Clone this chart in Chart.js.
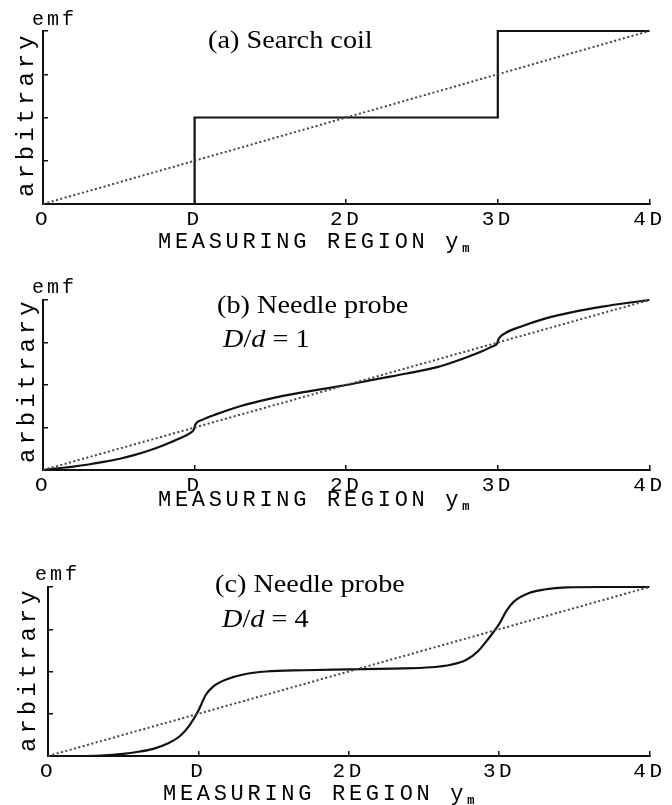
<!DOCTYPE html>
<html>
<head>
<meta charset="utf-8">
<script src="https://cdn.jsdelivr.net/npm/chart.js@4/dist/chart.umd.min.js"></script>
<style>
  body { margin: 0; background: #fff; }
  #page { position: relative; width: 672px; height: 805px; overflow: hidden; }
  canvas { position: absolute; left: 0; }
  .lbl { position: absolute; white-space: nowrap; line-height: 1; color: #000; z-index: 2; }
  .mono { font-family: 'Liberation Mono', 'Courier New', monospace; }
  .serif { font-family: 'Liberation Serif', 'Times New Roman', serif; font-size: 25px;
           transform: scaleX(1.13); transform-origin: 0 0; color: #000; }
  .emf { font-size: 20px; letter-spacing: 3px; }
  .ylab { font-size: 24px; letter-spacing: 4px; transform: rotate(-90deg); transform-origin: 0 0; }
  .xlab { font-size: 22px; letter-spacing: 3.7px; }
  .sub { font-size: 12px; letter-spacing: 0; vertical-align: -4px; font-weight: bold; }
</style>
</head>
<body>
<div id="page">
  <canvas id="chartA" width="672" height="260" style="top:0px"></canvas>
  <canvas id="chartB" width="672" height="260" style="top:262px"></canvas>
  <canvas id="chartC" width="672" height="260" style="top:545px"></canvas>

  <!-- panel (a) text -->
  <div class="lbl mono emf" style="left:32px;top:10px">emf</div>
  <div class="lbl mono ylab" style="left:15px;top:197px">arbitrary</div>
  <div class="lbl mono xlab" style="left:158px;top:232px">MEASURING REGION y<span class="sub">m</span></div>
  <div class="lbl serif" style="left:208px;top:27px">(a) Search coil</div>

  <!-- panel (b) text -->
  <div class="lbl mono emf" style="left:32px;top:278px">emf</div>
  <div class="lbl mono ylab" style="left:16px;top:463px">arbitrary</div>
  <div class="lbl mono xlab" style="left:158px;top:490px">MEASURING REGION y<span class="sub">m</span></div>
  <div class="lbl serif" style="left:217px;top:292px">(b) Needle probe</div>
  <div class="lbl serif" style="left:223px;top:326px"><i>D</i>/<i>d</i> = 1</div>

  <!-- panel (c) text -->
  <div class="lbl mono emf" style="left:35px;top:565px">emf</div>
  <div class="lbl mono ylab" style="left:17px;top:752px">arbitrary</div>
  <div class="lbl mono xlab" style="left:163px;top:784px">MEASURING REGION y<span class="sub">m</span></div>
  <div class="lbl serif" style="left:215px;top:571px">(c) Needle probe</div>
  <div class="lbl serif" style="left:222px;top:606px"><i>D</i>/<i>d</i> = 4</div>
</div>

<script>
// tick labels along the measuring region
const xTickLabels = ['O', 'D', '2D', '3D', '4D'];

// dotted reference line (same in every panel)
const diagX = [0, 4];
const diagY = [0, 4];

// (a) search coil - step response
const coilX = [0, 1, 1, 3, 3, 4];
const coilY = [0, 0, 2, 2, 4, 4];

// (b) needle probe, D/d = 1
const needle1X = [0, 0.1, 0.2, 0.3, 0.4, 0.5, 0.6, 0.7, 0.8, 0.9, 0.97, 0.995, 1.005, 1.05, 1.15, 1.3, 1.5, 1.7, 1.85, 2.0,
                  2.2, 2.4, 2.6, 2.8, 2.9, 2.97, 2.995, 3.005, 3.05, 3.15, 3.3, 3.5, 3.7, 3.85, 4.0];
const needle1Y = [0, 0.04, 0.08, 0.13, 0.19, 0.26, 0.35, 0.46, 0.59, 0.74, 0.87, 0.95, 1.07, 1.18, 1.32, 1.50, 1.68, 1.82, 1.91, 2.0,
                  2.14, 2.27, 2.42, 2.66, 2.80, 2.92, 2.97, 3.08, 3.22, 3.37, 3.55, 3.72, 3.85, 3.93, 4.0];

// (c) needle probe, D/d = 4
const needle4X = [0, 0.2, 0.35, 0.5, 0.6, 0.7, 0.8, 0.88, 0.94, 1.0, 1.05, 1.1, 1.2, 1.3, 1.45, 1.7, 2.0, 2.3, 2.55, 2.68,
                  2.78, 2.86, 2.93, 3.0, 3.05, 3.1, 3.2, 3.3, 3.45, 3.7, 4.0];
const needle4Y = [0, 0, 0.01, 0.05, 0.1, 0.17, 0.3, 0.48, 0.72, 1.07, 1.45, 1.65, 1.83, 1.93, 2.0, 2.03, 2.05, 2.07, 2.1, 2.16,
                  2.27, 2.48, 2.78, 3.12, 3.44, 3.66, 3.86, 3.94, 3.99, 4.0, 4.0];

const ink = '#111';

function toPoints(xs, ys) {
    return xs.map((x, i) => ({ x: x, y: ys[i] }));
}

function dottedLine() {
    return {
        data: toPoints(diagX, diagY),
        borderColor: '#444',
        borderWidth: 2,
        borderDash: [2, 2.5],
        pointRadius: 0,
        clip: false
    };
}

function solidLine(xs, ys, smooth) {
    const ds = {
        data: toPoints(xs, ys),
        borderColor: '#111',
        borderWidth: 2.2,
        pointRadius: 0,
        clip: false
    };
    if (smooth) ds.cubicInterpolationMode = 'monotone';
    return ds;
}

// courier style labels are spaced out a little
const spacing = {
    id: 'spacing',
    beforeDraw(chart) { chart.ctx.letterSpacing = '3.5px'; },
    beforeDatasetsDraw(chart) { chart.ctx.letterSpacing = '0px'; }
};

function makePanel(id, datasets, pad) {
    const axisLine = { display: true, color: ink, width: 2 };
    const tickGrid = { drawOnChartArea: false, tickLength: -5, color: ink, lineWidth: 1.5 };
    return new Chart(document.getElementById(id), {
        type: 'line',
        data: { datasets: datasets },
        options: {
            responsive: false,
            animation: false,
            events: [],
            layout: { padding: pad },
            plugins: { legend: { display: false }, tooltip: { enabled: false } },
            scales: {
                x: {
                    type: 'linear', min: 0, max: 4,
                    ticks: {
                        stepSize: 1, autoSkip: false, maxRotation: 0,
                        padding: 10, color: '#000',
                        font: { family: "'Liberation Mono', 'Courier New', monospace", size: 21, lineHeight: 1 },
                        callback: (v) => xTickLabels[v]
                    },
                    grid: tickGrid,
                    border: axisLine,
                    afterFit: (s) => { s.height = 36; }
                },
                y: {
                    min: 0, max: 4,
                    ticks: { stepSize: 1, display: false },
                    grid: tickGrid,
                    border: axisLine,
                    afterFit: (s) => { s.width = 0; }
                }
            }
        },
        plugins: [spacing]
    });
}

makePanel('chartA', [dottedLine(), solidLine(coilX, coilY, false)],
    { left: 43, right: 20, top: 31, bottom: 20 });
makePanel('chartB', [dottedLine(), solidLine(needle1X, needle1Y, true)],
    { left: 43, right: 20, top: 38, bottom: 16 });
makePanel('chartC', [dottedLine(), solidLine(needle4X, needle4Y, true)],
    { left: 48, right: 16, top: 42, bottom: 13 });
</script>
</body>
</html>
